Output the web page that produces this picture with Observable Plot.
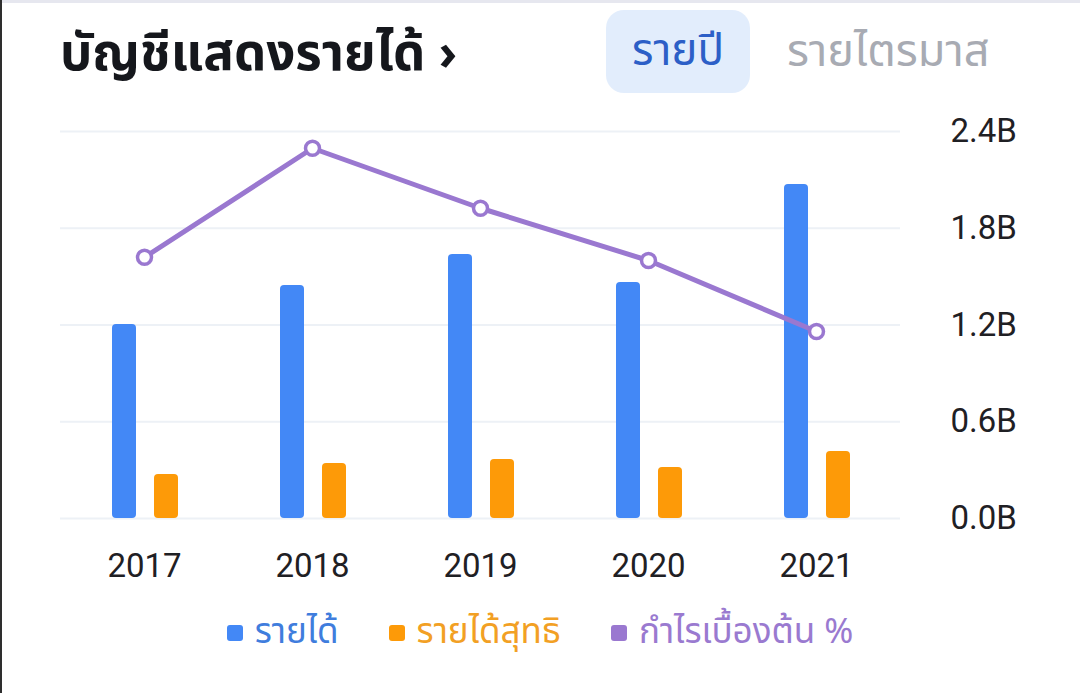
<!DOCTYPE html>
<html><head><meta charset="utf-8">
<script src="https://cdn.jsdelivr.net/npm/d3@7"></script>
<script src="https://cdn.jsdelivr.net/npm/@observablehq/plot@0.6"></script>
<style>
html,body{margin:0;padding:0;background:#fff;}
body{width:1080px;height:693px;position:relative;overflow:hidden;font-family:"Noto Sans Thai","Noto Sans",Roboto,sans-serif;}
#topbar{position:absolute;left:0;top:0;width:1080px;height:3px;background:#e6e7ef;}
#leftbar{position:absolute;left:0;top:0;width:2px;height:693px;background:#2e2e2e;}
#title{position:absolute;left:60px;top:18px;font-size:51px;font-weight:700;color:#15171c;line-height:74px;white-space:nowrap;}
#btn1{position:absolute;left:606px;top:10px;width:144px;height:83px;border-radius:18px;background:#e2edfc;color:#2c5fc7;font-size:44px;display:flex;align-items:center;justify-content:center;}
#btn2{position:absolute;left:787px;top:10px;height:83px;color:#a8abb3;font-size:45px;display:flex;align-items:center;white-space:nowrap;}
#chart{position:absolute;left:0;top:110px;}
#legend{position:absolute;left:0;top:606px;width:1080px;display:flex;justify-content:center;gap:50px;font-size:35px;}
.item{display:flex;align-items:center;gap:12px;white-space:nowrap;}
.sw{width:16px;height:16px;border-radius:3px;}
</style></head><body>
<div id="topbar"></div><div id="leftbar"></div>
<div id="title"></div>
<div id="btn1"></div><div id="btn2"></div>
<div id="chart"></div>
<div id="legend"></div>
<script>
const titleText = "บัญชีแสดงรายได้ ›";
const periodLabels = ["รายปี", "รายไตรมาส"];
const years = ["2017", "2018", "2019", "2020", "2021"];
const revenue = [1.203, 1.445, 1.637, 1.464, 2.071];      // billion
const netIncome = [0.273, 0.341, 0.366, 0.316, 0.415];    // billion
const grossMargin = [40.5, 57.4, 48.1, 40.0, 29.0];       // percent (hidden axis)
const yTicks = [0, 0.6, 1.2, 1.8, 2.4];
const seriesNames = ["รายได้", "รายได้สุทธิ", "กำไรเบื้องต้น %"];
const seriesColors = ["#4388f6", "#fd9a08", "#9a78d0"];
const legendTextColors = ["#3f7ddd", "#f2a024", "#9a7ad0"];
const marginMax = 60; // hidden secondary axis: 60% maps to top of revenue axis

document.getElementById("title").textContent = titleText;
document.getElementById("btn1").textContent = periodLabels[0];
document.getElementById("btn2").textContent = periodLabels[1];

const data = years.map((year, i) => ({
  year,
  revenue: revenue[i],
  net: netIncome[i],
  gm: grossMargin[i] * (yTicks[yTicks.length - 1] / marginMax)
}));

const chart = Plot.plot({
  width: 1080,
  height: 490,
  marginLeft: 60,
  marginRight: 180,
  marginTop: 21,
  marginBottom: 82,
  style: {fontSize: "33px", fontFamily: "Roboto, sans-serif", color: "#1f2024", background: "transparent", overflow: "visible"},
  x: {domain: years, padding: 0, tickSize: 0, tickPadding: 35, label: null},
  y: {domain: [0, 2.4], axis: "right", ticks: yTicks, tickFormat: d => d.toFixed(1) + "B", tickSize: 0, tickPadding: 50, label: null},
  marks: [
    Plot.ruleY(yTicks, {stroke: "#edf1f6", strokeWidth: 2}),
    Plot.barY(data, {x: "year", y: "revenue", fill: seriesColors[0], insetLeft: 52, insetRight: 92, rx: 4}),
    Plot.barY(data, {x: "year", y: "net", fill: seriesColors[1], insetLeft: 94, insetRight: 50, rx: 4}),
    Plot.line(data, {x: "year", y: "gm", stroke: seriesColors[2], strokeWidth: 5}),
    Plot.dot(data, {x: "year", y: "gm", r: 7, fill: "white", stroke: seriesColors[2], strokeWidth: 3.5})
  ]
});
document.getElementById("chart").appendChild(chart);

const legend = document.getElementById("legend");
seriesNames.forEach((name, i) => {
  const item = document.createElement("div");
  item.className = "item";
  const sw = document.createElement("div");
  sw.className = "sw";
  sw.style.background = seriesColors[i];
  const label = document.createElement("span");
  label.textContent = name;
  label.style.color = legendTextColors[i];
  item.appendChild(sw);
  item.appendChild(label);
  legend.appendChild(item);
});
</script>
</body></html>
